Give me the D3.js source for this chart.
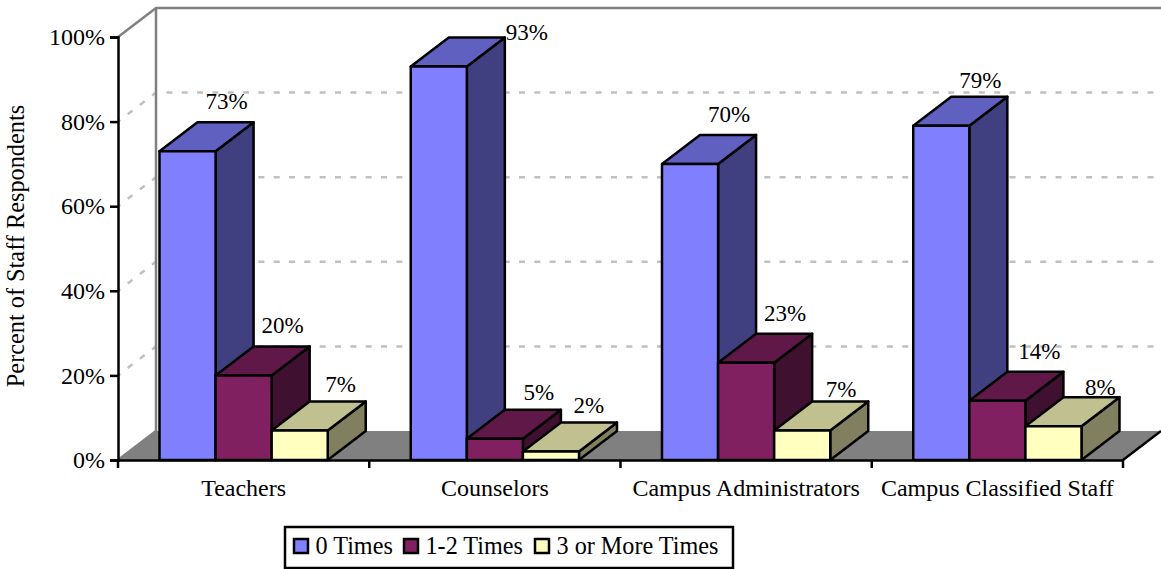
<!DOCTYPE html>
<html>
<head>
<meta charset="utf-8">
<script src="https://cdn.jsdelivr.net/npm/d3@7/dist/d3.min.js"></script>
<style>
  html, body { margin: 0; padding: 0; background: #fff; }
  svg { display: block; }
  text { font-family: "Liberation Serif", "Times New Roman", serif; fill: #000; }
</style>
</head>
<body>
<svg id="chart" width="1161" height="569"></svg>
<script>
const categories = ["Teachers", "Counselors", "Campus Administrators", "Campus Classified Staff"];
const seriesNames = ["0 Times", "1-2 Times", "3 or More Times"];
const zeroTimes = [73, 93, 70, 79];
const oneToTwoTimes = [20, 5, 23, 14];
const threeOrMoreTimes = [7, 2, 7, 8];
const seriesValues = [zeroTimes, oneToTwoTimes, threeOrMoreTimes];
const percentTicks = [0, 20, 40, 60, 80, 100];

// Front, top and side shades for each series
const shades = [
  { front: "#8080ff", top: "#6060c0", side: "#404080" },
  { front: "#802060", top: "#601848", side: "#401030" },
  { front: "#ffffc0", top: "#c0c090", side: "#808060" }
];

// Oblique projection offset of the chart's depth
const depthX = 38, depthY = -29;

// Nudges for data labels, [dx, dy] from the default spot, by series then category
const labelNudge = [
  [[0, 0], [49, 15], [0, 0], [0, 4]],
  [[0, 0], [5, 3], [0, 0], [3, 0]],
  [[2, 3.5], [-1, 3.5], [0, 8.5], [8, 11]]
];

const svg = d3.select("#chart");
const x0 = d3.scaleBand().domain(categories).range([118, 1123]);
const x1 = d3.scaleBand().domain(seriesNames).range([0, x0.bandwidth()])
  .paddingInner(0).paddingOuter(0.74);
const y = d3.scaleLinear().domain([0, 100]).range([460, 37]);

const poly = pts => pts.map(p => p.join(",")).join(" ");

// Floor, with a dark front-right edge
svg.append("polygon")
  .attr("points", poly([[118, y(0)], [118 + depthX, y(0) + depthY], [1161, y(0) + depthY], [1123, y(0)]]))
  .attr("fill", "#808080");
svg.append("line")
  .attr("x1", 1123).attr("y1", y(0)).attr("x2", 1161).attr("y2", y(0) + depthY)
  .attr("stroke", "#000").attr("stroke-width", 2.5);

// Dashed gridlines across the side wall and back wall
const gridValues = percentTicks.filter(t => t > 0 && t < 100);
svg.append("g").selectAll("path").data(gridValues).join("path")
  .attr("d", t => `M118,${y(t)}L${118 + depthX},${y(t) + depthY}L1161,${y(t) + depthY}`)
  .attr("fill", "none").attr("stroke", "#c0c0c0").attr("stroke-width", 2.5)
  .attr("stroke-dasharray", "6 9.33").attr("stroke-dashoffset", -12.2);

// Wall frame
svg.append("path")
  .attr("d", `M118,${y(100)}L${118 + depthX},${y(100) + depthY}L1161,${y(100) + depthY}`)
  .attr("fill", "none").attr("stroke", "#808080").attr("stroke-width", 2.5);
svg.append("path")
  .attr("d", `M${118 + depthX},${y(100) + depthY}L${118 + depthX},${y(0) + depthY}L118,${y(0)}`)
  .attr("fill", "none").attr("stroke", "#808080").attr("stroke-width", 2.5);

// Axes
const yAxis = d3.axisLeft(y).tickValues(percentTicks).tickFormat(d => d + "%").tickSize(8).tickPadding(5);
const gy = svg.append("g").attr("transform", "translate(118,0)").call(yAxis);
const xAxis = d3.axisBottom(x0).tickSize(0).tickPadding(19);
const gx = svg.append("g").attr("transform", `translate(0,${y(0)})`).call(xAxis);
[gy, gx].forEach(g => {
  g.selectAll("path.domain").attr("stroke", "#000").attr("stroke-width", 2.5);
  g.selectAll("line").attr("stroke", "#000").attr("stroke-width", 2.5);
  g.selectAll("text").style("font-family", '"Liberation Serif", serif').style("font-size", "24px").attr("fill", "#000");
});
// Category separators on the x axis sit at band edges
gx.selectAll("line.sep")
  .data(categories.map(c => x0(c)).concat(x0.range()[1]))
  .join("line").attr("class", "sep")
  .attr("x1", d => d).attr("x2", d => d).attr("y1", 0).attr("y2", 8)
  .attr("stroke", "#000").attr("stroke-width", 2.5);

// 3D columns, drawn back to front along each category
const bars = svg.append("g");
categories.forEach((cat, ci) => {
  seriesNames.forEach((name, si) => {
    const v = seriesValues[si][ci];
    const xl = x0(cat) + x1(name), xr = xl + x1.bandwidth();
    const yt = y(v), yb = y(0);
    const g = bars.append("g").attr("stroke", "#000").attr("stroke-width", 2.5).attr("stroke-linejoin", "round");
    g.append("polygon").attr("fill", shades[si].side)
      .attr("points", poly([[xr, yt], [xr + depthX, yt + depthY], [xr + depthX, yb + depthY], [xr, yb]]));
    g.append("polygon").attr("fill", shades[si].top)
      .attr("points", poly([[xl, yt], [xl + depthX, yt + depthY], [xr + depthX, yt + depthY], [xr, yt]]));
    g.append("rect").attr("fill", shades[si].front)
      .attr("x", xl).attr("y", yt).attr("width", xr - xl).attr("height", yb - yt);
  });
});

// Data labels
categories.forEach((cat, ci) => {
  seriesNames.forEach((name, si) => {
    const v = seriesValues[si][ci];
    const [dx, dy] = labelNudge[si][ci];
    svg.append("text")
      .attr("x", x0(cat) + x1(name) + x1.bandwidth() / 2 + 39 + dx)
      .attr("y", y(v) + depthY - 13 + dy)
      .attr("text-anchor", "middle").attr("font-size", 23)
      .text(v + "%");
  });
});

// Y axis title
svg.append("text")
  .attr("transform", "translate(24,246) rotate(-90)")
  .attr("text-anchor", "middle").attr("font-size", 24.3)
  .text("Percent of Staff Respondents");

// Legend
const legend = svg.append("g");
legend.append("rect").attr("x", 285).attr("y", 527).attr("width", 448).attr("height", 41)
  .attr("fill", "#fff").attr("stroke", "#000").attr("stroke-width", 2.5);
const legendX = d3.scaleOrdinal().domain(seriesNames).range([294, 404, 535]);
seriesNames.forEach((name, si) => {
  legend.append("rect").attr("x", legendX(name)).attr("y", 539).attr("width", 14).attr("height", 14)
    .attr("fill", shades[si].front).attr("stroke", "#000").attr("stroke-width", 2.5);
  legend.append("text").attr("x", legendX(name) + 21.5).attr("y", 554).attr("font-size", 24.2).text(name);
});
</script>
</body>
</html>
